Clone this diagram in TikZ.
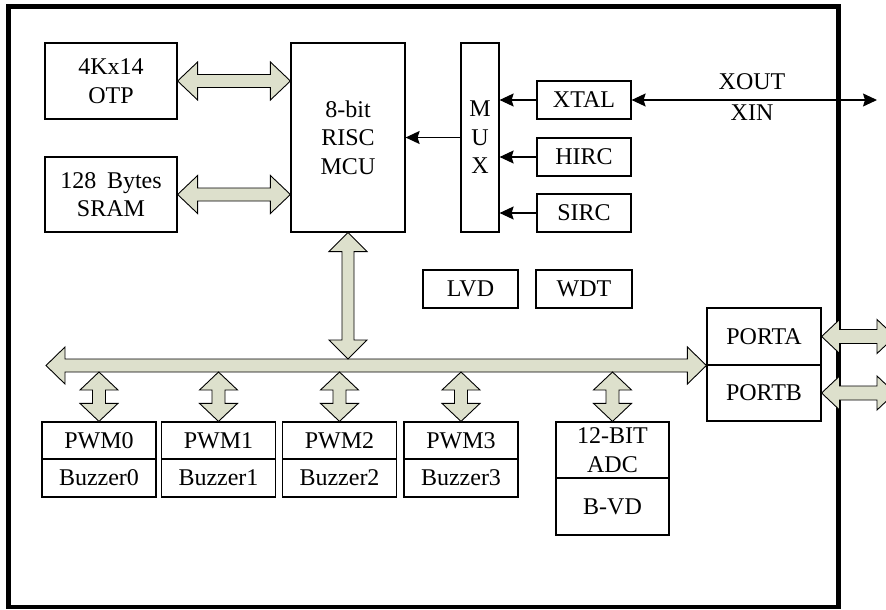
\documentclass[tikz,border=0pt]{standalone}
\usepackage{fontspec}
\setmainfont{Liberation Serif}
\usetikzlibrary{arrows.meta,calc}
\definecolor{arrowfill}{RGB}{221,224,204}
\tikzset{
  box/.style={draw=black, line width=1.2pt, inner sep=0pt, align=center,
    font=\fontsize{24}{28.5}\selectfont},
  blk/.style={fill=arrowfill, draw=black, line width=0.9pt, line join=miter},
  sig/.style={line width=1.2pt, -{Stealth[length=14pt,width=13pt,inset=2pt]}},
  lbl/.style={font=\fontsize{24}{28.5}\selectfont, inner sep=0pt}
}
% horizontal double block arrow: left tip, right tip, head length, head half, shaft half
\newcommand\hdarrow[5]{\filldraw[blk] let \p1=#1, \p2=#2 in
  (\x1,\y1) -- (\x1+#3pt,\y1+#4pt) -- (\x1+#3pt,\y1+#5pt) -- (\x2-#3pt,\y1+#5pt)
  -- (\x2-#3pt,\y1+#4pt) -- (\x2,\y1) -- (\x2-#3pt,\y1-#4pt) -- (\x2-#3pt,\y1-#5pt)
  -- (\x1+#3pt,\y1-#5pt) -- (\x1+#3pt,\y1-#4pt) -- cycle;}
% vertical double block arrow: top tip, bottom tip, head length, head half, shaft half
\newcommand\vdarrow[5]{\filldraw[blk] let \p1=#1, \p2=#2 in
  (\x1,\y1) -- (\x1+#4pt,\y1-#3pt) -- (\x1+#5pt,\y1-#3pt) -- (\x1+#5pt,\y2+#3pt)
  -- (\x1+#4pt,\y2+#3pt) -- (\x1,\y2) -- (\x1-#4pt,\y2+#3pt) -- (\x1-#5pt,\y2+#3pt)
  -- (\x1-#5pt,\y1-#3pt) -- (\x1-#4pt,\y1-#3pt) -- cycle;}
\begin{document}
\begin{tikzpicture}[x=1pt,y=-1pt]
\useasboundingbox (0,0) rectangle (886,610);
% outer frame
\draw[line width=4.5pt] (8.5,6.5) rectangle (838.5,607);

% memory and core
\node[box, minimum width=132pt, minimum height=76pt] (otp) at (111,81) {4Kx14\\OTP};
\node[box, minimum width=132pt, minimum height=75pt] (sram) at (111,194.5) {128\hspace{0.45em}Bytes\\SRAM};
\node[box, minimum width=114pt, minimum height=189pt] (mcu) at (348,137.5) {8-bit\\RISC\\MCU};
\node[box, minimum width=38pt, minimum height=189pt] (mux) at (480,137.5) {M\\U\\X};

% clock sources
\node[box, minimum width=94pt, minimum height=38pt] (xtal) at (584,100) {XTAL};
\node[box, minimum width=94pt, minimum height=38pt] (hirc) at (584,157) {HIRC};
\node[box, minimum width=94pt, minimum height=38pt] (sirc) at (584,213) {SIRC};

% LVD / WDT
\node[box, minimum width=95pt, minimum height=38pt] (lvd) at (470.5,289) {LVD};
\node[box, minimum width=96pt, minimum height=38pt] (wdt) at (584,289) {WDT};

% ports
\node[box, minimum width=114pt, minimum height=57pt] (porta) at (764,336.5) {PORTA};
\node[box, minimum width=114pt, minimum height=56pt] (portb) at (764,393) {PORTB};

% PWM / buzzer
\foreach \i/\x in {0/99,1/218.5,2/339.5,3/461}{
  \node[box, minimum width=114pt, minimum height=37pt] (pwm\i) at (\x,440.5) {PWM\i};
  \node[box, minimum width=114pt, minimum height=38pt] (bz\i) at (\x,478) {Buzzer\i};
}
% ADC
\node[box, minimum width=113pt, minimum height=56pt] (adc) at (612.5,450) {12-BIT\\ADC};
\node[box, minimum width=113pt, minimum height=57pt] (bvd) at (612.5,506.5) {B-VD};

% thin signal arrows
\draw[sig] (mux.west) -- (mux.west -| mcu.east);
\draw[sig] (xtal.west) -- (xtal.west -| mux.east);
\draw[sig] (hirc.west) -- (hirc.west -| mux.east);
\draw[sig] (sirc.west) -- (sirc.west -| mux.east);
\coordinate (xio) at (877,100);
\draw[line width=1.2pt, {Stealth[length=14pt,width=13pt,inset=2pt]}-{Stealth[length=14pt,width=13pt,inset=2pt]}] (xtal.east) -- (xio);
\node[lbl] (xout) at (752,82) {XOUT};
\node[lbl] (xin) at (752,113) {XIN};

% block arrows: memory <-> core
\hdarrow{(otp.east)}{(mcu.west |- otp.east)}{20}{19}{6.5}
\hdarrow{(sram.east)}{(mcu.west |- sram.east)}{20}{19}{6.5}

% bus
\coordinate (busL) at (46,365.5);
\coordinate (busT) at (0,359);
\coordinate (busB) at (0,372);
\hdarrow{(busL)}{(porta.south west)}{19}{18.5}{6.5}
\vdarrow{(mcu.south)}{(mcu.south |- busT)}{19}{19}{6}

% bus <-> peripherals
\vdarrow{(pwm0.north |- busB)}{(pwm0.north)}{18}{19}{6.5}
\vdarrow{(pwm1.north |- busB)}{(pwm1.north)}{18}{19}{6.5}
\vdarrow{(pwm2.north |- busB)}{(pwm2.north)}{18}{19}{6.5}
\vdarrow{(pwm3.north |- busB)}{(pwm3.north)}{18}{19}{6.5}
\vdarrow{(adc.north |- busB)}{(adc.north)}{18}{19}{6.5}

% ports to outside
\coordinate (pa) at (895,336.5);
\coordinate (pb) at (895,393);
\hdarrow{(porta.east)}{(pa)}{18}{17}{7}
\hdarrow{(portb.east)}{(pb)}{18}{17}{7}
\end{tikzpicture}
\end{document}
